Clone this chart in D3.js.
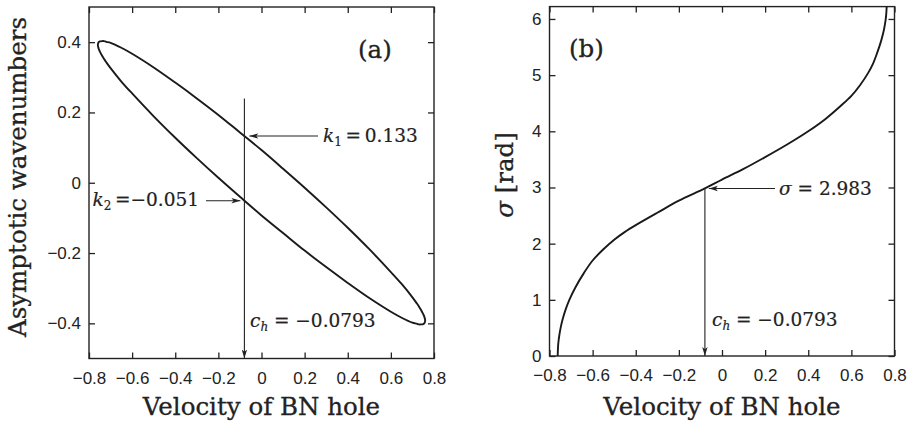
<!DOCTYPE html>
<html>
<head>
<meta charset="utf-8">
<script src="https://cdn.jsdelivr.net/npm/d3@7"></script>
<style>
  body { margin: 0; background: #fff; }
  .tick text { font-family: "Liberation Sans", Arial, sans-serif; font-size: 17px; fill: #222; }
  .title { font-family: "DejaVu Serif", serif; font-size: 24.5px; fill: #222; stroke: #222; stroke-width: 0.3px; }
  .note { font-family: "DejaVu Serif", serif; font-size: 18.5px; fill: #222; stroke: #222; stroke-width: 0.2px; }
</style>
</head>
<body>
<script>
// tick labels
const velTicks = [-0.8, -0.6, -0.4, -0.2, 0, 0.2, 0.4, 0.6, 0.8];
const kTicks = [-0.4, -0.2, 0, 0.2, 0.4];
const sigmaTicks = [0, 1, 2, 3, 4, 5, 6];

// (a) closed loop of asymptotic wavenumbers
const loopVel = [-0.759, -0.755, -0.75, -0.74, -0.73, -0.72, -0.70, -0.65, -0.6, -0.5, -0.4, -0.3, -0.2, -0.1, 0,
  0.1, 0.2, 0.3, 0.4, 0.5, 0.6, 0.65, 0.70, 0.72, 0.73, 0.74, 0.75, 0.755, 0.759,
  0.755, 0.75, 0.74, 0.73, 0.72, 0.70, 0.65, 0.6, 0.5, 0.4, 0.3, 0.2, 0.1, 0,
  -0.1, -0.2, -0.3, -0.4, -0.5, -0.6, -0.65, -0.70, -0.72, -0.73, -0.74, -0.75, -0.755];
const loopK = [0.392, 0.400, 0.402, 0.403, 0.403, 0.401, 0.398, 0.384, 0.367, 0.328, 0.285, 0.240, 0.193, 0.143, 0.093,
  0.040, -0.014, -0.070, -0.128, -0.189, -0.254, -0.288, -0.326, -0.343, -0.352, -0.362, -0.374, -0.381, -0.392,
  -0.400, -0.402, -0.403, -0.403, -0.401, -0.398, -0.384, -0.367, -0.328, -0.285, -0.240, -0.193, -0.143, -0.093,
  -0.040, 0.014, 0.070, 0.128, 0.189, 0.254, 0.288, 0.326, 0.343, 0.352, 0.362, 0.374, 0.381];

// (b) sigma vs velocity
const sigmaVel = [-0.762, -0.760, -0.757, -0.75, -0.74, -0.725, -0.708, -0.68, -0.64, -0.6, -0.55, -0.5, -0.45, -0.4,
  -0.3, -0.2, -0.0793, 0, 0.1, 0.2, 0.3, 0.4, 0.48, 0.55, 0.6, 0.64, 0.678, 0.70, 0.72, 0.738, 0.75, 0.758, 0.762, 0.764];
const sigmaVal = [0, 0.19, 0.30, 0.47, 0.64, 0.83, 1.00, 1.22, 1.48, 1.70, 1.90, 2.07, 2.21, 2.33,
  2.55, 2.765, 2.983, 3.14, 3.33, 3.54, 3.76, 4.00, 4.22, 4.45, 4.63, 4.82, 5.04, 5.20, 5.40, 5.61, 5.79, 5.96, 6.10, 6.25];

// marked values
const ch = -0.0793;
const k1 = 0.133;
const k2 = -0.051;
const sigma0 = 2.983;

const svg = d3.select("body").append("svg")
  .attr("width", 912)
  .attr("height", 425);

const defs = svg.append("defs");
defs.append("marker")
  .attr("id", "arr")
  .attr("viewBox", "0 0 10 10")
  .attr("refX", 10).attr("refY", 5)
  .attr("markerWidth", 9).attr("markerHeight", 9)
  .attr("markerUnits", "userSpaceOnUse")
  .attr("orient", "auto")
  .append("path")
  .attr("d", "M0,2 L10,5 L0,8 L2.5,5 Z")
  .attr("fill", "#222");

const fmt = d => d === 0 ? "0" : d3.format(".1f")(d);

function frame(g, x, y, xt, yt, yfmt) {
  const [x0, x1] = x.range();
  const [y0, y1] = y.range();
  g.append("g").attr("transform", `translate(0,${y0})`)
    .call(d3.axisBottom(x).tickValues(xt).tickFormat(fmt).tickSizeInner(-6).tickSizeOuter(0).tickPadding(13));
  g.append("g").attr("transform", `translate(0,${y1})`)
    .call(d3.axisTop(x).tickValues(xt).tickFormat("").tickSizeInner(-6).tickSizeOuter(0));
  g.append("g").attr("transform", `translate(${x0},0)`)
    .call(d3.axisLeft(y).tickValues(yt).tickFormat(yfmt).tickSizeInner(-6).tickSizeOuter(0).tickPadding(8));
  g.append("g").attr("transform", `translate(${x1},0)`)
    .call(d3.axisRight(y).tickValues(yt).tickFormat("").tickSizeInner(-6).tickSizeOuter(0));
  g.selectAll(".domain").remove();
  g.selectAll(".tick line").attr("stroke", "#222").attr("stroke-width", 1.3);
  g.append("rect")
    .attr("x", x0).attr("y", y1)
    .attr("width", x1 - x0).attr("height", y0 - y1)
    .attr("fill", "none").attr("stroke", "#222").attr("stroke-width", 1.4);
}

function arrow(g, xa, ya, xb, yb) {
  g.append("line")
    .attr("x1", xa).attr("y1", ya).attr("x2", xb).attr("y2", yb)
    .attr("stroke", "#222").attr("stroke-width", 1.1)
    .attr("marker-end", "url(#arr)");
}

// ---------- panel (a)
const xa = d3.scaleLinear().domain([-0.8, 0.8]).range([89, 434]);
const ya = d3.scaleLinear().domain([-0.5, 0.5]).range([358.5, 7]);
const ga = svg.append("g");
frame(ga, xa, ya, velTicks, kTicks, fmt);

const loop = d3.range(loopVel.length).map(i => [loopVel[i], loopK[i]]);
ga.append("path")
  .datum(loop)
  .attr("fill", "none")
  .attr("stroke", "#1a1a1a")
  .attr("stroke-width", 1.9)
  .attr("d", d3.line().x(d => xa(d[0])).y(d => ya(d[1])).curve(d3.curveCatmullRomClosed));

arrow(ga, xa(ch), ya(0.24), xa(ch), ya(-0.5));
arrow(ga, 318, ya(k1), xa(ch) + 5, ya(k1));
arrow(ga, 206, ya(k2), xa(ch) - 4, ya(k2));

const t1 = ga.append("text").attr("class", "note").attr("x", 323).attr("y", ya(k1) + 6);
t1.append("tspan").attr("font-style", "italic").text("k");
t1.append("tspan").attr("font-size", "12px").attr("dy", 4).text("1");
t1.append("tspan").attr("dy", -4).text("\u2009=\u20090.133");

const t2 = ga.append("text").attr("class", "note").attr("x", 199).attr("y", ya(k2) + 5).attr("text-anchor", "end");
t2.append("tspan").attr("font-style", "italic").text("k");
t2.append("tspan").attr("font-size", "12px").attr("dy", 4).text("2");
t2.append("tspan").attr("dy", -4).text("\u2009=\u22120.051");

const t3 = ga.append("text").attr("class", "note").attr("x", 250).attr("y", 327);
t3.append("tspan").attr("font-style", "italic").text("c");
t3.append("tspan").attr("font-size", "12px").attr("font-style", "italic").attr("dy", 4).text("h");
t3.append("tspan").attr("dy", -4).text(" = \u22120.0793");

ga.append("text").attr("class", "title")
  .attr("x", (xa.range()[0] + xa.range()[1]) / 2).attr("y", 415)
  .attr("text-anchor", "middle")
  .text("Velocity of BN hole");
ga.append("text").attr("class", "title")
  .attr("transform", "translate(26,177) rotate(-90)")
  .attr("text-anchor", "middle")
  .text("Asymptotic wavenumbers");
ga.append("text").attr("class", "title")
  .attr("x", 358).attr("y", 58).attr("font-size", "30px")
  .text("(a)");

// ---------- panel (b)
const xb = d3.scaleLinear().domain([-0.8, 0.8]).range([549.5, 894.5]);
const yb = d3.scaleLinear().domain([0, 6.22]).range([356, 6.6]);
const gb = svg.append("g");
frame(gb, xb, yb, velTicks, sigmaTicks, d3.format("d"));

defs.append("clipPath").attr("id", "clipb")
  .append("rect")
  .attr("x", xb.range()[0]).attr("y", yb.range()[1])
  .attr("width", xb.range()[1] - xb.range()[0])
  .attr("height", yb.range()[0] - yb.range()[1]);

const sig = d3.range(sigmaVel.length).map(i => [sigmaVel[i], sigmaVal[i]]);
gb.append("path")
  .datum(sig)
  .attr("clip-path", "url(#clipb)")
  .attr("fill", "none")
  .attr("stroke", "#1a1a1a")
  .attr("stroke-width", 1.9)
  .attr("d", d3.line().x(d => xb(d[0])).y(d => yb(d[1])).curve(d3.curveCatmullRom.alpha(0.5)));

arrow(gb, 775, yb(sigma0), xb(ch) + 4, yb(sigma0));
arrow(gb, xb(ch), yb(sigma0), xb(ch), yb(0));

const t4 = gb.append("text").attr("class", "note").attr("x", 779).attr("y", yb(sigma0) + 7);
t4.append("tspan").attr("font-style", "italic").text("\u03c3");
t4.append("tspan").text(" = 2.983");

const t5 = gb.append("text").attr("class", "note").attr("x", 712).attr("y", 326);
t5.append("tspan").attr("font-style", "italic").text("c");
t5.append("tspan").attr("font-size", "12px").attr("font-style", "italic").attr("dy", 4).text("h");
t5.append("tspan").attr("dy", -4).text(" = \u22120.0793");

gb.append("text").attr("class", "title")
  .attr("x", (xb.range()[0] + xb.range()[1]) / 2).attr("y", 415)
  .attr("text-anchor", "middle")
  .text("Velocity of BN hole");
const ty = gb.append("text").attr("class", "title")
  .attr("transform", "translate(513,175) rotate(-90)")
  .attr("text-anchor", "middle");
ty.append("tspan").attr("font-style", "italic").text("\u03c3");
ty.append("tspan").text(" [rad]");
gb.append("text").attr("class", "title")
  .attr("x", 569).attr("y", 57).attr("font-size", "30px")
  .text("(b)");
</script>
</body>
</html>
